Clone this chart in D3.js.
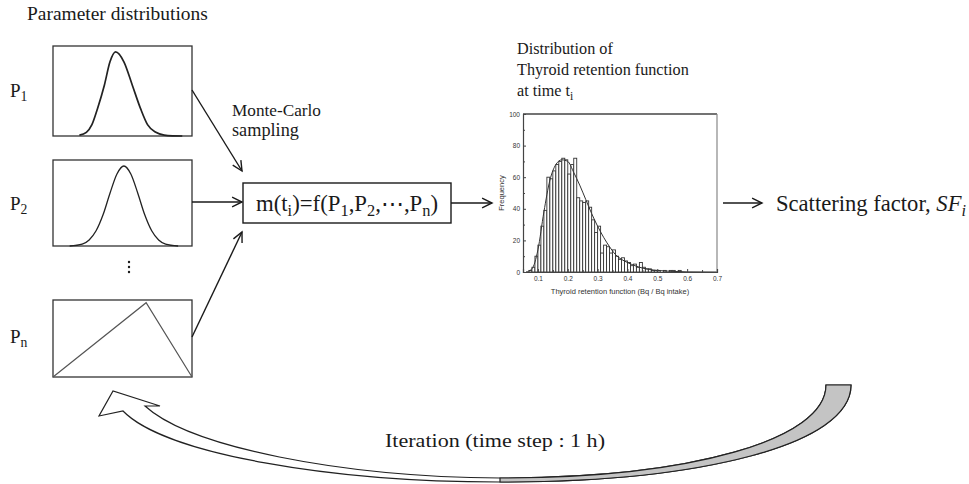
<!DOCTYPE html>
<html><head><meta charset="utf-8">
<script src="https://cdn.jsdelivr.net/npm/d3@7"></script>
<style>body{margin:0;background:#fff}svg{display:block}</style>
</head><body>
<svg id="c" width="969" height="484"></svg>
<script>
// ---------- data ----------
// Histogram: bin starts (width 0.01) and frequencies
const binStarts = [0.06,0.07,0.08,0.09,0.10,0.11,0.12,0.13,0.14,0.15,0.16,0.17,0.18,0.19,0.20,0.21,0.22,0.23,0.24,0.25,0.26,0.27,0.28,0.29,0.30,0.31,0.32,0.33,0.34,0.35,0.36,0.37,0.38,0.39,0.40,0.41,0.42,0.43,0.44,0.45,0.46,0.47,0.48,0.49,0.50,0.51,0.52,0.53,0.54,0.55,0.56,0.57,0.58];
const frequencies = [0,1,3,10,17,29,39,60,59,64,68,70,72,71,62,68,72,47,45,44,45,41,33,25,29,12,17,16,12,14,10,8,9,7,6,4,5,3,6,3,2,2,1,1,1,0,1,0,1,1,0,1,0];
const fitX = [0.06,0.08,0.10,0.12,0.14,0.16,0.18,0.20,0.22,0.24,0.26,0.28,0.30,0.32,0.34,0.36,0.38,0.40,0.45,0.50,0.55,0.60,0.70];
const fitY = [0,2,14,38,58,68,71,70,63,55,46,37,29,22,16,11,8,6,2.5,1,0.4,0.1,0];
const xTicks = [0.1,0.2,0.3,0.4,0.5,0.6,0.7];
const yTicks = [0,20,40,60,80,100];
// Parameter distribution shapes (x: % of range, y: relative density)
const p1X = [19,24,28,32,37,41,45,51,57,63,68,74,80,86,93];
const p1Y = [0.01,0.044,0.135,0.325,0.607,0.882,1,0.882,0.607,0.325,0.135,0.044,0.011,0.002,0];
const p2X = [12,21,26,31,36,41,46,51,56,61,66,71,76,81,90];
const p2Y = [0,0.024,0.076,0.19,0.39,0.66,0.90,1,0.90,0.66,0.39,0.19,0.076,0.024,0];
const pnX = [0,67,100];
const pnY = [0,1,0];

const svg = d3.select('#c');
const serif = "'Liberation Serif', 'DejaVu Serif', serif";
const sans = "'Liberation Sans', Arial, sans-serif";
const ink = '#1a1a1a';

function arrowHead(g, x1, y1, x2, y2, len=11, ang=0.45) {
  const a = Math.atan2(y2 - y1, x2 - x1);
  const p = d3.path();
  p.moveTo(x2 - len*Math.cos(a - ang), y2 - len*Math.sin(a - ang));
  p.lineTo(x2, y2);
  p.lineTo(x2 - len*Math.cos(a + ang), y2 - len*Math.sin(a + ang));
  g.append('path').attr('d', p.toString()).attr('fill','none').attr('stroke',ink).attr('stroke-width',1.4);
}
function arrow(x1,y1,x2,y2){
  svg.append('line').attr('x1',x1).attr('y1',y1).attr('x2',x2).attr('y2',y2).attr('stroke',ink).attr('stroke-width',1.4);
  arrowHead(svg,x1,y1,x2,y2);
}
function subText(x, y, parts, size, anchor='start', target=null) {
  const t = svg.append('text').attr('x',x).attr('y',y).attr('font-family',serif).attr('fill',ink).attr('text-anchor',anchor);
  const build = s => {
    t.selectAll('tspan').remove();
    t.attr('font-size', s);
    parts.forEach(p => {
      const ts = t.append('tspan').text(p.t);
      if (p.sub) ts.attr('font-size', s*0.72).attr('dy', s*0.22);
      else if (p.back) ts.attr('dy', -s*0.22);
      if (p.it) ts.attr('font-style','italic');
    });
  };
  build(size);
  if (target) {
    const w = t.node().getComputedTextLength();
    if (w > 0) build(size * target / w);
  }
  return t;
}

// ---------- left: parameter distributions ----------
subText(27, 20, [{t:'Parameter distributions'}], 17, 'start', 181);

const boxes = [
  {top:46, bot:136, xs:p1X, ys:p1Y, ymax:1.07, label:'1', ly:97, color:'#222', w:1.7},
  {top:160, bot:246, xs:p2X, ys:p2Y, ymax:1.075, label:'2', ly:210, color:'#222', w:1.3},
  {top:300, bot:377, xs:pnX, ys:pnY, ymax:1.036, label:'n', ly:343, color:'#555', w:1.2},
];
const bx = d3.scaleLinear([0,100],[53,192]);
boxes.forEach(b => {
  svg.append('rect').attr('x',53).attr('y',b.top).attr('width',139).attr('height',b.bot-b.top)
    .attr('fill','#fff').attr('stroke','#333').attr('stroke-width',1.3);
  const by = d3.scaleLinear([0,b.ymax],[b.bot,b.top]);
  const line = d3.line().x((d,i)=>bx(b.xs[i])).y(d=>by(d)).curve(b.xs.length>3 ? d3.curveMonotoneX : d3.curveLinear);
  svg.append('path').attr('d', line(b.ys)).attr('fill','none').attr('stroke',b.color).attr('stroke-width',b.w);
  subText(10, b.ly, [{t:'P'},{t:b.label, sub:true}], 19);
});
[262,267,272].forEach(y => svg.append('circle').attr('cx',129).attr('cy',y).attr('r',1.2).attr('fill',ink));

// arrows to formula box
arrow(192,90,242,171);
arrow(192,202,242,202);
arrow(192,337,242,232);

subText(232, 116, [{t:'Monte-Carlo'}], 17, 'start', 89);
subText(232, 136, [{t:'sampling'}], 17, 'start', 67);

// formula box
svg.append('rect').attr('x',243).attr('y',183).attr('width',208).attr('height',40).attr('fill','#fff').attr('stroke',ink).attr('stroke-width',1.4);
subText(347, 211, [{t:'m(t'},{t:'i',sub:true},{t:')=f(P',back:true},{t:'1',sub:true},{t:',P',back:true},{t:'2',sub:true},{t:',⋯,P',back:true},{t:'n',sub:true},{t:')',back:true}], 22, 'middle', 182);

arrow(451,203,492,203);

// ---------- histogram ----------
subText(517, 54, [{t:'Distribution of'}], 16.2);
subText(517, 75, [{t:'Thyroid retention function'}], 16.2);
subText(517, 96, [{t:'at time t'},{t:'i',sub:true}], 16.2);

const hx = d3.scaleLinear([0.05,0.70],[523,717]);
const hy = d3.scaleLinear([0,100],[272,114]);
const hg = svg.append('g');
hg.selectAll('rect.bar').data(frequencies).join('rect').attr('class','bar')
  .attr('x',(d,i)=>hx(binStarts[i])).attr('width',(d,i)=>hx(binStarts[i]+0.01)-hx(binStarts[i]))
  .attr('y',d=>hy(d)).attr('height',d=>hy(0)-hy(d))
  .attr('fill','#fff').attr('stroke','#333').attr('stroke-width',0.9);
hg.append('path').attr('d', d3.line().x((d,i)=>hx(fitX[i])).y(d=>hy(d)).curve(d3.curveMonotoneX)(fitY))
  .attr('fill','none').attr('stroke','#333').attr('stroke-width',1);
// frame
hg.append('line').attr('x1',523).attr('x2',717).attr('y1',114).attr('y2',114).attr('stroke','#444').attr('stroke-width',1.3);
hg.append('line').attr('x1',717).attr('x2',717).attr('y1',114).attr('y2',272).attr('stroke','#888').attr('stroke-width',1.2);
const xAxis = d3.axisBottom(hx).tickValues(xTicks).tickFormat(d3.format('.1f')).tickSize(-3).tickPadding(4);
const xg = hg.append('g').attr('transform','translate(0,272)').call(xAxis);
const yAxis = d3.axisLeft(hy).tickValues(yTicks).tickSize(-3).tickPadding(3);
const yg = hg.append('g').attr('transform','translate(523,0)').call(yAxis);
[xg,yg].forEach(g=>{
  g.selectAll('text').attr('font-family',sans).attr('font-size',6.5).attr('fill','#333');
  g.selectAll('line').attr('stroke','#444');
  g.select('.domain').attr('stroke','#444').attr('stroke-width',1.2);
});
// minor ticks
hg.append('g').attr('transform','translate(0,272)').call(d3.axisBottom(hx).tickValues([0.05,0.15,0.25,0.35,0.45,0.55,0.65]).tickFormat('').tickSize(-2))
  .call(g=>{g.select('.domain').remove(); g.selectAll('line').attr('stroke','#444');});
hg.append('g').attr('transform','translate(523,0)').call(d3.axisLeft(hy).tickValues([10,30,50,70,90]).tickFormat('').tickSize(-2))
  .call(g=>{g.select('.domain').remove(); g.selectAll('line').attr('stroke','#444');});
hg.append('text').attr('x',620).attr('y',294).attr('text-anchor','middle').attr('font-family',sans).attr('font-size',7.5).attr('fill','#333')
  .text('Thyroid retention function (Bq / Bq intake)');
hg.append('text').attr('transform','translate(504,193) rotate(-90)').attr('text-anchor','middle').attr('font-family',sans).attr('font-size',7.5).attr('fill','#333')
  .text('Frequency');

// ---------- scattering factor ----------
arrow(723,203,762,203);
subText(776, 211, [{t:'Scattering factor, '},{t:'SF',it:true},{t:'i',sub:true,it:true}], 20, 'start', 190);

// ---------- iteration arrow ----------
const whole = 'M851,385 C851,445 700,482 500,482 C330,482 165,454 123,411 L99,416 L113,391 L160,406 L145,406 C190,447 340,477 500,478 C690,478 826,440 826,385 Z';
svg.append('path').attr('d',whole).attr('fill','#fff').attr('stroke','#222').attr('stroke-width',1.2);
const grey = 'M851,385 C851,445 700,482 500,482 L500,478 C690,478 826,440 826,385 Z';
svg.append('path').attr('d',grey).attr('fill','#c4c4c4').attr('stroke','#222').attr('stroke-width',1.2);
svg.append('text').attr('x',495).attr('y',447).attr('text-anchor','middle').attr('font-family',serif).attr('font-size',19)
  .attr('textLength',220).attr('lengthAdjust','spacingAndGlyphs').attr('fill',ink)
  .text('Iteration (time step : 1 h)');
</script>
</body></html>
